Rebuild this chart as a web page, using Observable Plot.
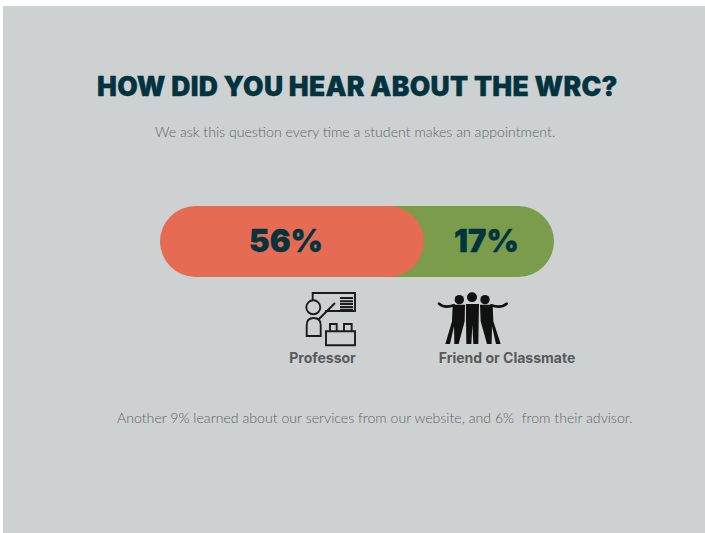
<!DOCTYPE html>
<html>
<head>
<meta charset="utf-8">
<script src="https://cdn.jsdelivr.net/npm/d3@7"></script>
<script src="https://cdn.jsdelivr.net/npm/@observablehq/plot@0.6"></script>
<style>
  html, body { margin: 0; background: #fff; }
  #panel { position: absolute; left: 3px; top: 6px; width: 702px; height: 527px; background: #cdd1d2; }
  .line { position: absolute; left: 0; margin: 0; white-space: pre; }
  #title { top: 64px; left: 94px; font: 900 26.5px Inter, sans-serif; color: #02333f; letter-spacing: 0.27px; -webkit-text-stroke: 0.3px #02333f; }
  #subtitle { top: 116.5px; left: 152px; font: 300 14.15px Lato, sans-serif; color: #626467; }
  #note { top: 402.5px; left: 114px; font: 300 14.15px Lato, sans-serif; color: #626467; }
  #chart { position: absolute; left: -3px; top: 184px; }
  #chart svg { background: transparent; display: block; }
</style>
</head>
<body>
<div id="panel">
  <h1 class="line" id="title">HOW DID YOU HEAR ABOUT THE WRC?</h1>
  <p class="line" id="subtitle">We ask this question every time a student makes an appointment.</p>
  <div id="chart"></div>
  <p class="line" id="note">Another 9% learned about our services from our website, and 6%  from their advisor.</p>
</div>
<script>
const sources = ["Professor", "Friend or Classmate"];
const shares = [56, 17];
const colors = ["#e56b53", "#7a9c4b"];
const ink = "#02333f";

const rows = sources.map((source, i) => ({
  source,
  share: shares[i],
  start: d3.sum(shares.slice(0, i)),
  end: d3.sum(shares.slice(0, i + 1)),
  color: colors[i]
}));

// The pill's two segments overlap, so the right one is tucked under the left one's rounded end.
const tuck = (d) => (d.start === 0 ? 0 : d.start / 2);
const middle = (d) => (d.start + d.end) / 2;
const first = rows.filter((d) => d.start === 0);
const second = rows.filter((d) => d.start > 0);

// Teacher at a board, drawn around its own centre.
function professorIcon(g) {
  g.attr("fill", "none").attr("stroke", "#1c1c1c").attr("stroke-width", 1.9);
  const paths = [
    "M-18.3 -19V-26H24V-8H-6",
    "M9 -21H22M9 -17.7H22M9 -15H22M9 -12H22M9 -9.3H22",
    "M-13 1L4 -16",
    "M-24.3 17V6Q-24.3 -1 -17.3 -1Q-10.3 -1 -10.3 6V17Z",
    "M-5 12.3H24V26.3H-5Z",
    "M-1 12.3V5H5.7V12.3M13 12.3V5H20.7V12.3"
  ];
  paths.forEach((d) => g.append("path").attr("d", d));
  g.append("circle").attr("cx", -17.7).attr("cy", -11.7).attr("r", 7);
}

// Three friends standing arm in arm.
function friendsIcon(g) {
  const art = g.append("g")
    .attr("transform", "scale(0.3333) translate(-127.5,-96)")
    .attr("fill", "#111");
  [[88, 35, 14], [126, 28, 15], [165, 35, 14]].forEach(([cx, cy, r]) =>
    art.append("circle").attr("cx", cx).attr("cy", cy).attr("r", r));
  const paths = [
    "M68 50L105 50L104 100L86 168H73L72 115L60 168H46L66 100Z",
    "M108 48H147L146 100L145 168H130L127 110L124 168H109L108 100Z",
    "M150 50H188L190 100L212 168H198L186 115L185 168H171L152 100Z"
  ];
  paths.forEach((d) => art.append("path").attr("d", d));
  art.append("path").attr("fill", "none").attr("stroke", "#111").attr("stroke-width", 8)
    .attr("stroke-linecap", "round").attr("d", "M27 47Q42 62 72 52M230 47Q212 62 184 52");
}

// Places an icon relative to the middle of its segment.
const icon = (source, draw, dx, dy) => (index, { x, y }) => {
  const d = rows.find((r) => r.source === source);
  const g = d3.create("svg:g")
    .attr("transform", `translate(${x(middle(d)) + dx},${y("share") + y.bandwidth() / 2 + dy})`);
  draw(g);
  return g.node();
};

const valueText = { x: middle, y: () => "share", text: (d) => `${d.share}%`, fill: ink,
  fontFamily: "Inter, sans-serif", fontWeight: 900, fontSize: 31, stroke: ink, strokeWidth: 0.3 };
const sourceText = { x: middle, y: () => "share", text: "source", dy: 117, fill: "#58595b",
  fontFamily: "Inter, sans-serif", fontWeight: 700, fontSize: 14 };

const chart = Plot.plot({
  width: 705,
  height: 200,
  margin: 0,
  axis: null,
  style: { background: "transparent", overflow: "visible" },
  // The segments are not to a common scale, so each share gets its own stretch of the pill.
  x: { type: "linear", domain: [0, 56, 73], range: [160, 424, 554] },
  y: { type: "band", domain: ["share"], range: [16, 87], padding: 0 },
  marks: [
    Plot.barX(rows.slice().reverse(), {
      x1: tuck, x2: "end", y: () => "share", fill: "color", rx: 35.5, ry: 35.5
    }),
    Plot.text(first, { ...valueText, dx: -6.5 }),
    Plot.text(second, { ...valueText, dx: -3 }),
    Plot.text(first, { ...sourceText, dx: 30 }),
    Plot.text(second, { ...sourceText, dx: 17.5 }),
    icon("Professor", professorIcon, 39, 77.5),
    icon("Friend or Classmate", friendsIcon, -16.5, 78.5)
  ]
});

document.getElementById("chart").append(chart);
</script>
</body>
</html>
